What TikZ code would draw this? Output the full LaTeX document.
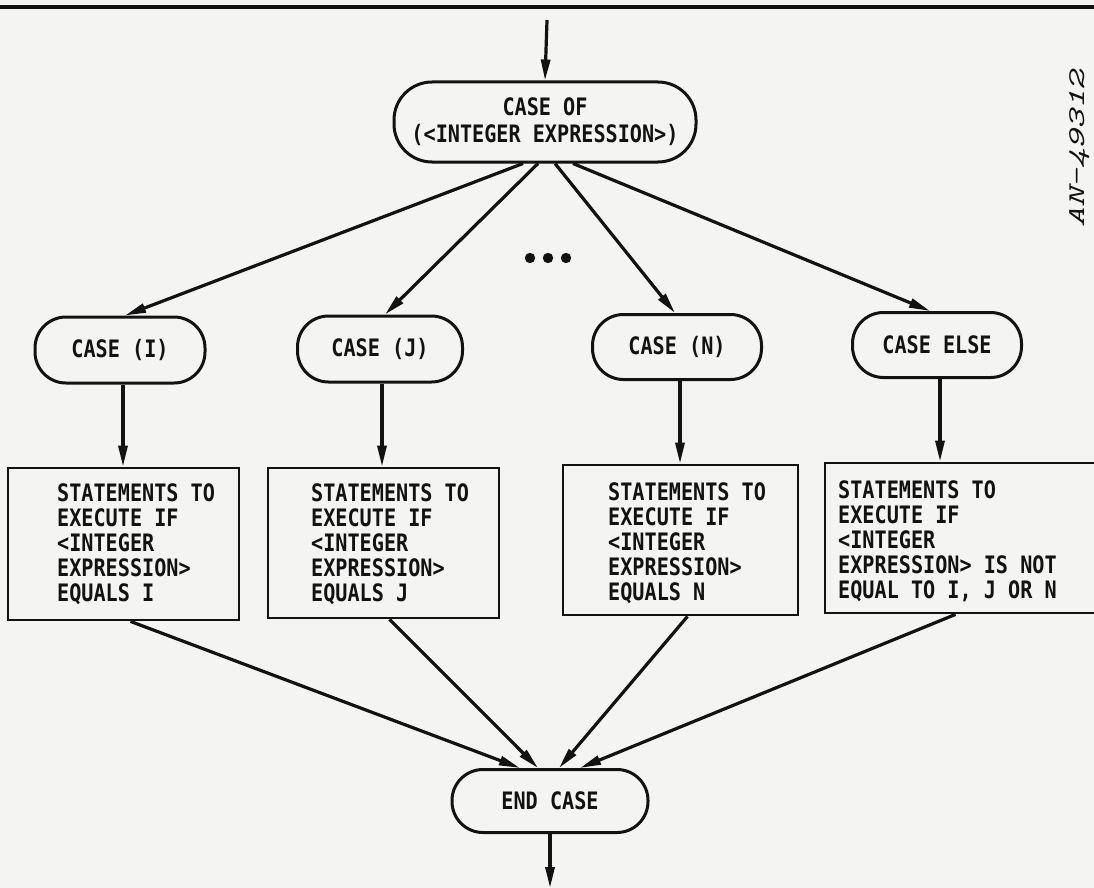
\documentclass[tikz,border=0pt]{standalone}
\usepackage{fontspec}
\newfontfamily\fmono{DejaVu Sans Mono}[FakeStretch=0.84]
\newfontfamily\anfont{Latin Modern Mono}[FakeStretch=1.55]
\usetikzlibrary{arrows.meta}
\definecolor{paper}{RGB}{244,244,242}
\definecolor{ink}{RGB}{18,18,18}
\begin{document}
\begin{tikzpicture}[x=1pt,y=-1pt,
  every node/.style={font=\fmono\bfseries\fontsize{24}{25}\selectfont,text=ink},
  rule/.style={line width=3.2pt,draw=ink},
  arr/.style={line width=3.2pt,draw=ink,-{Triangle[length=21pt,width=9pt]}},
  term/.style={draw=ink,line width=3pt,rounded corners=31pt,inner sep=0pt,align=center},
  stmt/.style={draw=ink,line width=2.8pt,inner sep=0pt},
  stext/.style={align=left,inner sep=0pt,anchor=north west}]
\fill[paper] (0,0) rectangle (1094,888);
\useasboundingbox (0,0) rectangle (1094,888);
% top rule
\coordinate (rl) at (0,7);
\coordinate (rr) at (1094,7);
\draw[rule] (rl) -- (rr);
% nodes
\coordinate (in) at (547,20);
\node[term, minimum width=302pt, minimum height=80pt, rounded corners=38pt] (top) at (545,122) {CASE OF\\[2pt](<INTEGER EXPRESSION>)};
\node[term, minimum width=170pt, minimum height=66pt] (ci) at (120,350) {CASE (I)};
\node[term, minimum width=165pt, minimum height=66pt] (cj) at (380,349) {CASE (J)};
\node[term, minimum width=169pt, minimum height=65pt] (cn) at (677,347) {CASE (N)};
\node[term, minimum width=169pt, minimum height=65pt] (ce) at (937,345) {CASE ELSE};
\node[stmt, minimum width=231pt, minimum height=152pt] (bi) at (123.5,544) {};
\node[stmt, minimum width=231pt, minimum height=150pt] (bj) at (383.5,543) {};
\node[stmt, minimum width=235pt, minimum height=150pt] (bn) at (680.5,540) {};
\node[stmt, minimum width=295pt, minimum height=150pt] (be) at (972.5,538) {};
\node[stext] (ti) at (57,483) {STATEMENTS TO\\EXECUTE IF\\<INTEGER\\EXPRESSION>\\EQUALS I};
\node[stext] (tj) at (311,483) {STATEMENTS TO\\EXECUTE IF\\<INTEGER\\EXPRESSION>\\EQUALS J};
\node[stext] (tn) at (608,482) {STATEMENTS TO\\EXECUTE IF\\<INTEGER\\EXPRESSION>\\EQUALS N};
\node[stext] (te) at (838,480) {STATEMENTS TO\\EXECUTE IF\\<INTEGER\\EXPRESSION> IS NOT\\EQUAL TO I, J OR N};
\node[term, minimum width=196pt, minimum height=63pt] (ec) at (550,801) {END CASE};
\coordinate (out) at (550,888);
% dots
\foreach \x in {530,548,566} \fill[ink] (\x,258) circle (5.2pt);
% label
\node[rotate=90, font=\anfont\itshape\fontsize{24}{24}\selectfont] (an) at (1080,149) {AN-49312};
% connectors
\draw[arr] (in) -- (top.north);
\draw[arr] ([xshift=-22pt]top.south) -- ([xshift=5pt]ci.north);
\draw[arr] ([xshift=-7pt]top.south) -- ([xshift=5pt]cj.north);
\draw[arr] ([xshift=10pt]top.south) -- ([xshift=-2pt]cn.north);
\draw[arr] ([xshift=28pt]top.south) -- ([xshift=-7pt]ce.north);
\draw[arr] ([xshift=3pt]ci.south) -- ([xshift=3pt]ci.south |- bi.north);
\draw[arr] ([xshift=2pt]cj.south) -- ([xshift=2pt]cj.south |- bj.north);
\draw[arr] ([xshift=3pt]cn.south) -- ([xshift=3pt]cn.south |- bn.north);
\draw[arr] ([xshift=3pt]ce.south) -- ([xshift=3pt]ce.south |- be.north);
\draw[arr] ([xshift=7pt]bi.south) -- ([xshift=-30pt]ec.north);
\draw[arr] ([xshift=6pt]bj.south) -- ([xshift=-12pt]ec.north);
\draw[arr] ([xshift=7pt]bn.south) -- ([xshift=9pt]ec.north);
\draw[arr] ([xshift=-17pt]be.south) -- ([xshift=30pt]ec.north);
\draw[arr] (ec.south) -- (out);
\end{tikzpicture}
\end{document}
